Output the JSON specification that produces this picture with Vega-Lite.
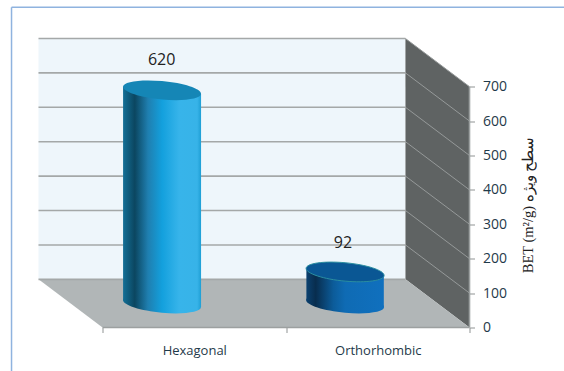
{
  "$schema": "https://vega.github.io/schema/vega-lite/v6.json",
  "width": 431,
  "height": 289,
  "autosize": {"type": "none"},
  "padding": {"left": 38.5, "top": 38.5, "right": 94.5, "bottom": 43.5},
  "background": "#ffffff",
  "config": {"view": {"stroke": null}},
  "datasets": {
    "frame": [
      {"pos": -0.496, "lvl": 931, "pos2": 2.6, "lvl2": 931},
      {"pos": -0.496, "lvl": 931, "pos2": -0.496, "lvl2": -140}
    ],
    "backWall": [{"pos": -0.349, "pos2": 1.651, "lvl": 140, "lvl2": 840}],
    "sideWall": [
      {"pos": 1.651, "lvl": 840, "lvl2": 140},
      {"pos": 2, "lvl": 700, "lvl2": 0}
    ],
    "floor": [
      {"lvl": 0, "pos": 0, "pos2": 2},
      {"lvl": 140, "pos": -0.349, "pos2": 1.651}
    ],
    "backGrid": [
      {"lvl": 140}, {"lvl": 240}, {"lvl": 340}, {"lvl": 440},
      {"lvl": 540}, {"lvl": 640}, {"lvl": 740}, {"lvl": 840}
    ],
    "sideGrid": [
      {"pos": 1.651, "lvl": 240, "pos2": 2, "lvl2": 100},
      {"pos": 1.651, "lvl": 340, "pos2": 2, "lvl2": 200},
      {"pos": 1.651, "lvl": 440, "pos2": 2, "lvl2": 300},
      {"pos": 1.651, "lvl": 540, "pos2": 2, "lvl2": 400},
      {"pos": 1.651, "lvl": 640, "pos2": 2, "lvl2": 500},
      {"pos": 1.651, "lvl": 740, "pos2": 2, "lvl2": 600},
      {"pos": 1.651, "lvl": 840, "pos2": 2, "lvl2": 700}
    ],
    "axisLines": [
      {"pos": 0, "lvl": 0, "pos2": 2, "lvl2": 0},
      {"pos": 2, "lvl": 0, "pos2": 2, "lvl2": 700}
    ],
    "bodies": [
      {"bar": "Hexagonal", "pos": 0.112, "head": 699.5, "foot": 79.5},
      {"bar": "Hexagonal", "pos": 0.537, "head": 679.5, "foot": 59.5},
      {"bar": "Orthorhombic", "pos": 1.111, "head": 171.5, "foot": 79.5},
      {"bar": "Orthorhombic", "pos": 1.533, "head": 151.5, "foot": 59.5}
    ],
    "bars": [
      {"bar": "Hexagonal", "value": 620, "pos": 0.324, "foot": 69.5, "head": 689.5, "labelPos": 0.322, "labelLvl": 777},
      {"bar": "Orthorhombic", "value": 92, "pos": 1.322, "foot": 69.5, "head": 161.5, "labelPos": 1.31, "labelLvl": 246}
    ]
  },
  "layer": [
    {
      "data": {"name": "frame"},
      "mark": {"type": "rule", "color": "#8fb3df", "strokeWidth": 1.5},
      "encoding": {
        "x": {"field": "pos", "type": "quantitative", "scale": {"domain": [-0.349, 2], "nice": false, "zero": false}, "axis": null},
        "x2": {"field": "pos2"},
        "y": {"field": "lvl", "type": "quantitative", "scale": {"domain": [0, 840], "nice": false, "zero": false}, "axis": null},
        "y2": {"field": "lvl2"}
      }
    },
    {
      "data": {"name": "backWall"},
      "mark": {"type": "rect", "color": "#eef6fb"},
      "encoding": {
        "x": {"field": "pos", "type": "quantitative", "scale": {"domain": [-0.349, 2], "nice": false, "zero": false}, "axis": null},
        "x2": {"field": "pos2"},
        "y": {"field": "lvl", "type": "quantitative", "scale": {"domain": [0, 840], "nice": false, "zero": false}, "axis": null},
        "y2": {"field": "lvl2"}
      }
    },
    {
      "data": {"name": "sideWall"},
      "mark": {"type": "area", "color": "#5f6363"},
      "encoding": {
        "x": {"field": "pos", "type": "quantitative", "scale": {"domain": [-0.349, 2], "nice": false, "zero": false}, "axis": null},
        "y": {"field": "lvl", "type": "quantitative", "scale": {"domain": [0, 840], "nice": false, "zero": false}, "axis": null},
        "y2": {"field": "lvl2"}
      }
    },
    {
      "data": {"name": "floor"},
      "mark": {"type": "area", "orient": "horizontal", "color": "#b1b6b7"},
      "encoding": {
        "y": {"field": "lvl", "type": "quantitative", "scale": {"domain": [0, 840], "nice": false, "zero": false}, "axis": null},
        "x": {"field": "pos", "type": "quantitative", "scale": {"domain": [-0.349, 2], "nice": false, "zero": false}, "axis": null},
        "x2": {"field": "pos2"}
      }
    },
    {
      "data": {"name": "backGrid"},
      "mark": {"type": "rule", "color": "#a4a8a8", "strokeWidth": 1.6},
      "encoding": {
        "x": {"datum": -0.349, "type": "quantitative", "scale": {"domain": [-0.349, 2], "nice": false, "zero": false}, "axis": null},
        "x2": {"datum": 1.651},
        "y": {"field": "lvl", "type": "quantitative", "scale": {"domain": [0, 840], "nice": false, "zero": false}, "axis": null}
      }
    },
    {
      "data": {"name": "sideGrid"},
      "mark": {"type": "rule", "color": "#959999", "strokeWidth": 1},
      "encoding": {
        "x": {"field": "pos", "type": "quantitative", "scale": {"domain": [-0.349, 2], "nice": false, "zero": false}, "axis": null},
        "x2": {"field": "pos2"},
        "y": {"field": "lvl", "type": "quantitative", "scale": {"domain": [0, 840], "nice": false, "zero": false}, "axis": null},
        "y2": {"field": "lvl2"}
      }
    },
    {
      "data": {"name": "axisLines"},
      "mark": {"type": "rule", "color": "#9ca0a0", "strokeWidth": 1.6},
      "encoding": {
        "x": {
          "field": "pos",
          "type": "quantitative",
          "scale": {"domain": [-0.349, 2], "nice": false, "zero": false},
          "axis": {
            "values": [0, 1, 2],
            "orient": "bottom",
            "title": null,
            "labels": false,
            "domain": false,
            "grid": false,
            "ticks": true,
            "tickSize": 5,
            "tickColor": "#8f9393"
          }
        },
        "x2": {"field": "pos2"},
        "y": {
          "field": "lvl",
          "type": "quantitative",
          "scale": {"domain": [0, 840], "nice": false, "zero": false},
          "axis": {
            "values": [0, 100, 200, 300, 400, 500, 600, 700],
            "orient": "right",
            "domain": false,
            "grid": false,
            "tickSize": 5,
            "tickColor": "#8f9393",
            "labelPadding": 8,
            "labelFont": "Open Sans",
            "labelFontSize": 14,
            "labelColor": "#1f3a4a",
            "title": "BET (m²/g) سطح ویژه",
            "titleFont": "Liberation Serif",
            "titleFontSize": 14.5,
            "titleFontWeight": "normal",
            "titleColor": "#222222",
            "titleAngle": 270,
            "titleX": 66,
            "titleY": 166
          }
        },
        "y2": {"field": "lvl2"}
      }
    },
    {
      "data": {"name": "bars"},
      "mark": {"type": "text", "opacity": 0},
      "encoding": {
        "x": {
          "datum": 0.5,
          "type": "quantitative",
          "scale": {"domain": [-0.349, 2], "nice": false, "zero": false},
          "axis": {
            "values": [0.5, 1.5],
            "orient": "bottom",
            "title": null,
            "ticks": false,
            "domain": false,
            "grid": false,
            "labelExpr": "datum.value === 0.5 ? 'Hexagonal' : 'Orthorhombic'",
            "labelPadding": 17,
            "labelFont": "Open Sans",
            "labelFontSize": 13,
            "labelColor": "#1f3a4a"
          }
        },
        "y": {"datum": 0, "type": "quantitative", "scale": {"domain": [0, 840], "nice": false, "zero": false}, "axis": null},
        "text": {"field": "bar"}
      }
    },
    {
      "data": {"name": "bars"},
      "transform": [{"filter": "datum.bar === 'Hexagonal'"}],
      "mark": {
        "type": "point",
        "filled": true,
        "opacity": 1,
        "size": 6084,
        "shape": "M1 .09C1 .2203 .5523 .2857 0 .236C-.5523 .1863 -1 .0403 -1 -.09C-1 -.2203 -.5523 -.2857 0 -.236C.5523 -.1863 1 -.0403 1 .09Z",
        "fill": {"x1": 0, "y1": 0, "x2": 1, "y2": 0, "gradient": "linear", "stops": [
          {"offset": 0, "color": "#136f96"}, {"offset": 0.15, "color": "#0b4660"},
          {"offset": 0.32, "color": "#1f7fb0"}, {"offset": 0.5, "color": "#13a0dd"},
          {"offset": 0.72, "color": "#37b4ea"}, {"offset": 0.95, "color": "#37b3e8"},
          {"offset": 1, "color": "#1e9fd5"}
        ]}
      },
      "encoding": {
        "x": {"field": "pos", "type": "quantitative", "scale": {"domain": [-0.349, 2], "nice": false, "zero": false}, "axis": null},
        "y": {"field": "foot", "type": "quantitative", "scale": {"domain": [0, 840], "nice": false, "zero": false}, "axis": null}
      }
    },
    {
      "data": {"name": "bodies"},
      "transform": [{"filter": "datum.bar === 'Hexagonal'"}],
      "mark": {
        "type": "area",
        "color": {"x1": 0, "y1": 0, "x2": 1, "y2": 0, "gradient": "linear", "stops": [
          {"offset": 0, "color": "#136f96"}, {"offset": 0.15, "color": "#0b4660"},
          {"offset": 0.32, "color": "#1f7fb0"}, {"offset": 0.5, "color": "#13a0dd"},
          {"offset": 0.72, "color": "#37b4ea"}, {"offset": 0.95, "color": "#37b3e8"},
          {"offset": 1, "color": "#1e9fd5"}
        ]}
      },
      "encoding": {
        "x": {"field": "pos", "type": "quantitative", "scale": {"domain": [-0.349, 2], "nice": false, "zero": false}, "axis": null},
        "y": {"field": "head", "type": "quantitative", "scale": {"domain": [0, 840], "nice": false, "zero": false}, "axis": null},
        "y2": {"field": "foot"}
      }
    },
    {
      "data": {"name": "bars"},
      "transform": [{"filter": "datum.bar === 'Hexagonal'"}],
      "mark": {
        "type": "point",
        "filled": true,
        "opacity": 1,
        "size": 6084,
        "shape": "M1 .09C1 .2203 .5523 .2857 0 .236C-.5523 .1863 -1 .0403 -1 -.09C-1 -.2203 -.5523 -.2857 0 -.236C.5523 -.1863 1 -.0403 1 .09Z",
        "fill": "#1586b6"
      },
      "encoding": {
        "x": {"field": "pos", "type": "quantitative", "scale": {"domain": [-0.349, 2], "nice": false, "zero": false}, "axis": null},
        "y": {"field": "head", "type": "quantitative", "scale": {"domain": [0, 840], "nice": false, "zero": false}, "axis": null}
      }
    },
    {
      "data": {"name": "bars"},
      "transform": [{"filter": "datum.bar === 'Orthorhombic'"}],
      "mark": {
        "type": "point",
        "filled": true,
        "opacity": 1,
        "size": 6084,
        "shape": "M1 .09C1 .2203 .5523 .2857 0 .236C-.5523 .1863 -1 .0403 -1 -.09C-1 -.2203 -.5523 -.2857 0 -.236C.5523 -.1863 1 -.0403 1 .09Z",
        "fill": {"x1": 0, "y1": 0, "x2": 1, "y2": 0, "gradient": "linear", "stops": [
          {"offset": 0, "color": "#0b4170"}, {"offset": 0.12, "color": "#082d4e"},
          {"offset": 0.35, "color": "#0c5c9a"}, {"offset": 0.5, "color": "#0f6bb4"},
          {"offset": 1, "color": "#1070be"}
        ]}
      },
      "encoding": {
        "x": {"field": "pos", "type": "quantitative", "scale": {"domain": [-0.349, 2], "nice": false, "zero": false}, "axis": null},
        "y": {"field": "foot", "type": "quantitative", "scale": {"domain": [0, 840], "nice": false, "zero": false}, "axis": null}
      }
    },
    {
      "data": {"name": "bodies"},
      "transform": [{"filter": "datum.bar === 'Orthorhombic'"}],
      "mark": {
        "type": "area",
        "color": {"x1": 0, "y1": 0, "x2": 1, "y2": 0, "gradient": "linear", "stops": [
          {"offset": 0, "color": "#0b4170"}, {"offset": 0.12, "color": "#082d4e"},
          {"offset": 0.35, "color": "#0c5c9a"}, {"offset": 0.5, "color": "#0f6bb4"},
          {"offset": 1, "color": "#1070be"}
        ]}
      },
      "encoding": {
        "x": {"field": "pos", "type": "quantitative", "scale": {"domain": [-0.349, 2], "nice": false, "zero": false}, "axis": null},
        "y": {"field": "head", "type": "quantitative", "scale": {"domain": [0, 840], "nice": false, "zero": false}, "axis": null},
        "y2": {"field": "foot"}
      }
    },
    {
      "data": {"name": "bars"},
      "transform": [{"filter": "datum.bar === 'Orthorhombic'"}],
      "mark": {
        "type": "point",
        "filled": true,
        "opacity": 1,
        "size": 6084,
        "shape": "M1 .09C1 .2203 .5523 .2857 0 .236C-.5523 .1863 -1 .0403 -1 -.09C-1 -.2203 -.5523 -.2857 0 -.236C.5523 -.1863 1 -.0403 1 .09Z",
        "fill": "#0a5794",
        "stroke": "#2b8ea0",
        "strokeWidth": 1
      },
      "encoding": {
        "x": {"field": "pos", "type": "quantitative", "scale": {"domain": [-0.349, 2], "nice": false, "zero": false}, "axis": null},
        "y": {"field": "head", "type": "quantitative", "scale": {"domain": [0, 840], "nice": false, "zero": false}, "axis": null}
      }
    },
    {
      "data": {"name": "bars"},
      "mark": {"type": "text", "font": "Open Sans", "fontSize": 16, "color": "#222222", "baseline": "middle", "align": "center"},
      "encoding": {
        "x": {"field": "labelPos", "type": "quantitative", "scale": {"domain": [-0.349, 2], "nice": false, "zero": false}, "axis": null},
        "y": {"field": "labelLvl", "type": "quantitative", "scale": {"domain": [0, 840], "nice": false, "zero": false}, "axis": null},
        "text": {"field": "value", "type": "quantitative"}
      }
    }
  ],
  "resolve": {"axis": {"x": "independent", "y": "independent"}}
}
